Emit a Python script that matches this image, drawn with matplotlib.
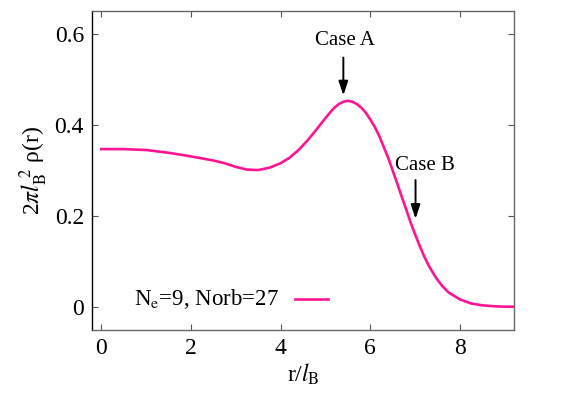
import matplotlib
matplotlib.use("Agg")
import matplotlib.pyplot as plt

r_vals = [0.0, 0.5, 1.0, 1.5, 2.0, 2.5, 2.75, 3.0, 3.25, 3.5, 3.75, 4.0, 4.2, 4.4, 4.6,
          4.8, 5.0, 5.1, 5.2, 5.3, 5.4, 5.5, 5.6, 5.7, 5.8, 5.9, 6.0, 6.1, 6.2, 6.3, 6.4,
          6.5, 6.6, 6.7, 6.8, 6.9, 7.0, 7.1, 7.2, 7.3, 7.4, 7.5, 7.6, 7.75, 8.0, 8.25,
          8.5, 8.75, 9.0, 9.2]
rho_vals = [0.347, 0.347, 0.345, 0.339, 0.331, 0.322, 0.316, 0.308, 0.302, 0.301, 0.306,
            0.316, 0.328, 0.345, 0.366, 0.390, 0.415, 0.427, 0.438, 0.446, 0.451, 0.453,
            0.451, 0.446, 0.438, 0.427, 0.412, 0.396, 0.376, 0.352, 0.328, 0.300, 0.272,
            0.243, 0.215, 0.186, 0.160, 0.135, 0.112, 0.092, 0.075, 0.060, 0.047, 0.032,
            0.017, 0.008, 0.004, 0.002, 0.001, 0.001]
legend_label = r'N$_{\rm e}$=9, Norb=27'
xticks = [0, 2, 4, 6, 8]
yticks = [0, 0.2, 0.4, 0.6]
ytick_labels = ['0', '0.2', '0.4', '0.6']
annotations = [("Case A", 5.40, 0.548, 0.465, 5.43, 0.585),
               ("Case B", 7.01, 0.279, 0.194, 7.22, 0.312)]

plt.rcParams['font.family'] = ['Liberation Serif', 'DejaVu Serif']
plt.rcParams['mathtext.fontset'] = 'stix'

fig = plt.figure(figsize=(5.67, 3.97), dpi=100)
ax = fig.add_axes([0.1628, 0.169, 0.7432, 0.803])
color = '#ff1493'
ax.plot(r_vals, rho_vals, color=color, lw=1.9)
ax.set_xlim(-0.2, 9.2)
ax.set_ylim(-0.05, 0.65)
ax.set_xticks(xticks)
ax.set_yticks(yticks)
ax.set_xticklabels([str(t) for t in xticks])
ax.set_yticklabels(ytick_labels)
ax.tick_params(direction='in', top=True, right=True, length=4, labelsize=17, width=0.8,
               color='#555555', pad=6)
for s in ['top', 'right', 'bottom']:
    ax.spines[s].set_color('#666666')
ax.spines['left'].set_color('black')
for s in ax.spines.values():
    s.set_linewidth(1.0)

ax.set_xlabel(r'r/$\mathit{l}_{\rm B}$', fontsize=17, labelpad=2)
ax.set_ylabel(r'2$\pi\mathit{l}_{\rm B}^{\ 2}$ ρ(r)', fontsize=17, labelpad=3)

for txt, xa, y0, y1, xt, yt in annotations:
    ax.annotate('', xy=(xa, y1), xytext=(xa, y0),
                arrowprops=dict(arrowstyle='-|>,head_length=0.6,head_width=0.2',
                                color='black', lw=1.4,
                                mutation_scale=14, shrinkA=0, shrinkB=0))
    ax.text(xt, yt, txt, ha='center', va='center', fontsize=15)

ax.text(3.96, 0.017, legend_label, ha='right', va='center', fontsize=16.5)
ax.plot([4.33, 5.06], [0.017, 0.017], color=color, lw=1.9)

fig.savefig('out.png', dpi=100)
